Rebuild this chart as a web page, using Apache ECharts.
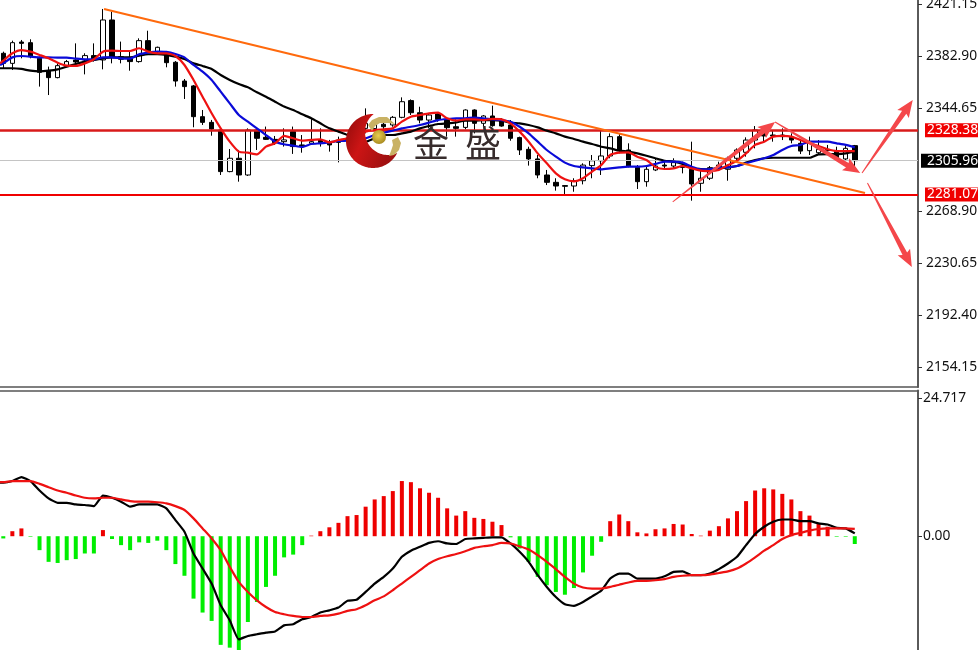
<!DOCTYPE html>
<html>
<head>
<meta charset="utf-8">
<style>html,body{margin:0;padding:0;background:#fff;overflow:hidden}#c{width:978px;height:650px}</style>
<script src="https://cdn.jsdelivr.net/npm/echarts@6/dist/echarts.min.js"></script>
</head>
<body>
<div id="c"></div>
<script>
// [open, close, low, high]
const ohlc = [
[2384.9,2377.5,2373.9,2386.1],[2377.5,2392.7,2372.6,2394.2],[2393.2,2392.2,2381.2,2394.7],[2392.7,2382.4,2381.2,2395.2],
[2381.2,2370.9,2360.4,2382.4],[2372.1,2367.0,2354.2,2375.1],[2367.0,2375.8,2366.5,2377.5],[2375.8,2378.8,2375.1,2380.0],
[2380.0,2378.5,2376.3,2392.2],[2380.0,2383.2,2369.4,2384.9],[2383.2,2380.5,2378.8,2392.2],[2380.0,2409.4,2373.1,2417.5],
[2409.4,2382.4,2377.5,2415.5],[2382.4,2380.5,2377.5,2393.5],[2381.9,2378.8,2372.1,2387.3],[2378.8,2394.2,2378.0,2395.9],
[2394.2,2386.8,2384.9,2401.5],[2386.1,2389.3,2384.9,2389.8],[2383.7,2378.0,2374.6,2384.9],[2378.3,2364.5,2360.4,2379.2],
[2364.5,2360.4,2351.3,2366.0],[2360.9,2338.3,2330.5,2361.6],[2338.3,2334.1,2332.2,2343.2],[2334.1,2329.2,2324.3,2335.9],
[2328.5,2297.9,2295.4,2329.7],[2297.9,2307.7,2297.4,2314.5],[2307.7,2295.4,2290.5,2313.8],[2295.4,2328.5,2294.7,2329.7],
[2328.5,2322.4,2313.8,2329.7],[2323.1,2321.6,2321.2,2331.0],[2321.6,2319.2,2317.5,2324.1],[2319.9,2321.2,2316.3,2329.7],
[2327.3,2316.3,2310.9,2331.0],[2317.5,2316.3,2311.8,2324.8],[2318.7,2319.9,2317.5,2337.1],[2321.2,2319.2,2316.3,2329.7],
[2319.9,2317.5,2312.6,2321.2],[2321.1,2319.4,2304.7,2323.6],[2320.6,2322.4,2318.7,2326.0],[2322.4,2324.8,2321.1,2328.5],
[2329.7,2333.4,2326.0,2344.4],[2329.5,2332.7,2328.5,2335.8],[2332.7,2330.9,2327.3,2337.1],[2332.2,2337.8,2330.9,2338.8],
[2337.8,2349.3,2337.1,2352.5],[2350.1,2341.2,2339.5,2351.0],[2341.2,2335.8,2333.4,2345.6],[2335.8,2339.5,2329.7,2340.7],
[2340.3,2336.3,2334.6,2340.7],[2335.8,2330.2,2323.6,2337.1],[2330.9,2329.7,2323.6,2336.3],[2330.4,2343.2,2329.0,2343.7],
[2343.2,2333.4,2326.0,2343.7],[2333.4,2338.8,2331.4,2339.5],[2338.8,2331.7,2330.9,2346.4],[2336.3,2331.4,2330.9,2337.1],
[2332.2,2322.4,2320.6,2335.8],[2322.9,2313.8,2310.1,2323.6],[2314.3,2307.2,2302.3,2316.2],[2307.2,2295.4,2293.0,2310.1],
[2295.4,2290.0,2288.0,2299.1],[2290.0,2287.3,2283.9,2293.0],[2287.6,2287.1,2281.2,2288.0],[2287.3,2291.2,2283.1,2293.0],
[2291.2,2302.7,2288.5,2304.0],[2302.3,2305.9,2293.0,2310.1],[2305.9,2309.4,2295.4,2328.0],[2309.4,2323.6,2307.7,2326.0],
[2323.6,2313.8,2311.3,2325.5],[2313.8,2302.0,2301.0,2318.7],[2301.0,2290.5,2285.1,2302.7],[2290.5,2299.6,2286.8,2302.7],
[2299.1,2302.0,2298.3,2307.7],[2302.7,2302.0,2299.1,2305.2],[2302.0,2304.5,2300.3,2307.7],[2302.0,2301.0,2296.6,2305.2],
[2299.6,2288.8,2276.5,2319.9],[2289.3,2293.0,2283.1,2299.1],[2293.0,2300.8,2291.7,2302.0],[2302.7,2300.3,2299.1,2305.2],
[2299.6,2307.7,2291.2,2308.9],[2307.7,2313.8,2305.2,2315.0],[2312.1,2321.1,2308.9,2323.1],[2321.1,2328.5,2315.0,2331.4],
[2327.3,2324.1,2319.9,2329.0],[2324.8,2324.1,2319.9,2328.0],[2323.6,2324.8,2321.1,2329.7],[2323.1,2321.1,2318.7,2326.0],
[2318.7,2313.0,2310.8,2321.1],[2313.3,2318.7,2310.1,2323.6],[2311.8,2314.3,2310.1,2321.1],[2314.3,2313.3,2310.1,2317.5],
[2312.6,2307.2,2306.4,2316.2],[2307.2,2315.0,2306.4,2316.7],[2317.0,2305.96,2301.5,2317.5]
];
const maFast = [2379.5,2384.9,2387.3,2386.1,2383.7,2381.2,2378.0,2375.8,2375.6,2377.5,2380.5,2386.1,2386.8,2386.6,2386.6,2388.6,2386.1,2384.9,2384.9,2382.9,2376.3,2365.3,2353.0,2340.8,2329.7,2319.9,2312.6,2311.8,2310.6,2316.3,2318.7,2324.1,2322.4,2320.7,2321.2,2321.6,2319.4,
2321.1,2322.4,2324.8,2327.3,2328.5,2329.0,2329.7,2334.6,2338.3,2339.5,2340.7,2341.2,2337.1,2335.4,2336.3,2336.3,2335.8,2336.6,2336.3,2333.4,2327.3,2319.9,2311.3,2304.0,2296.6,2292.2,2290.7,2293.0,2297.9,2302.7,2310.1,2311.8,2312.1,2308.9,2306.4,2301.3,2299.8,2300.3,2302.0,2300.3,2298.6,2298.3,2299.1,2302.7,2305.9,2311.3,2317.5,2319.9,2323.6,2324.1,2323.6,2321.1,2318.7,2316.7,2314.3,2313.0,2313.0,2313.0];
const maMid = [2377.5,2381.9,2382.9,2382.4,2381.9,2381.9,2381.7,2381.7,2381.0,2380.5,2380.5,2381.9,2381.9,2381.2,2381.0,2384.2,2385.4,2386.1,2385.9,2384.4,2381.9,2376.3,2371.4,2365.3,2356.7,2348.1,2339.5,2334.6,2329.7,2324.8,2319.9,2318.0,2317.0,2316.0,2318.2,2318.7,2319.4,
2320.4,2320.6,2321.1,2322.4,2324.8,2326.5,2328.0,2329.7,2330.9,2332.2,2333.9,2335.8,2336.6,2337.1,2337.1,2337.6,2337.1,2336.3,2335.8,2334.6,2330.9,2326.0,2319.9,2313.8,2308.9,2304.5,2302.0,2301.0,2300.3,2299.6,2300.3,2301.0,2301.5,2301.5,2302.0,2303.5,2305.2,2305.2,2304.5,2301.5,2299.6,2299.6,2300.8,2301.0,2302.0,2304.0,2305.9,2307.7,2310.1,2313.8,2316.7,2317.5,2319.9,2319.9,2319.9,2318.7,2317.5,2315.7];
const maSlow = [2373.9,2373.9,2373.4,2372.1,2371.6,2372.1,2373.1,2375.1,2377.0,2378.8,2380.0,2381.2,2381.9,2381.9,2381.9,2383.2,2384.2,2384.2,2383.7,2382.4,2380.7,2377.5,2375.6,2373.4,2368.9,2365.3,2362.3,2359.9,2356.2,2353.0,2349.3,2345.7,2343.2,2340.0,2337.1,2333.4,2329.7,
2327.3,2324.8,2321.1,2319.9,2322.4,2324.8,2324.8,2326.0,2327.3,2329.7,2331.4,2332.9,2333.4,2334.1,2335.4,2335.4,2335.8,2335.8,2335.4,2333.9,2333.4,2332.2,2330.4,2328.0,2326.0,2323.6,2321.9,2319.9,2318.2,2316.2,2315.0,2313.3,2312.6,2311.3,2309.6,2307.7,2305.9,2305.2,2303.5,2300.3,2299.8,2299.6,2300.3,2301.0,2302.0,2304.5,2306.4,2307.7,2308.1,2308.1,2308.1,2308.1,2308.1,2310.6,2310.8,2310.8,2311.3,2313.0];
const macdHist = [-0.4,0.9,1.4,-0.1,-2.5,-4.6,-4.8,-4.3,-4.1,-3.1,-3.1,1.1,-0.5,-1.6,-2.5,-1.1,-1.2,-0.8,-2.5,-5.0,-7.1,-11.2,-13.7,-15.2,-19.5,-20.0,-21.0,-15.4,-11.8,-9.1,-7.1,-3.8,-3.3,-1.6,0.1,0.9,1.6,
2.4,3.6,3.8,5.3,6.6,7.2,8.1,9.9,9.7,8.6,7.8,6.9,5.0,3.7,4.5,3.3,3.1,2.6,2.0,-0.2,-2.2,-4.6,-7.3,-8.8,-10.0,-10.5,-9.3,-6.5,-3.5,-1.0,2.7,3.9,2.7,0.7,0.5,
1.25,1.4,2.2,2.1,0.4,0.1,1.0,1.8,3.2,4.5,6.3,8.2,8.6,8.4,7.6,6.6,4.5,3.7,2.2,1.7,-0.1,-0.1,-1.4];
const macdLine = [9.6,9.9,10.6,9.9,8.2,6.8,6.0,6.0,5.7,5.6,5.4,7.3,6.9,6.2,5.3,5.7,5.7,5.7,5.0,2.9,0.8,-3.1,-5.8,-8.5,-12.4,-15.1,-18.5,-17.9,-17.6,-17.3,-17.1,-16.0,-15.8,-14.9,-14.5,-13.7,-13.3,
-12.8,-11.6,-11.4,-10.0,-8.5,-7.3,-5.8,-3.7,-2.6,-1.9,-1.2,-0.9,-1.3,-1.4,-0.5,-0.4,-0.3,-0.2,-0.2,-1.3,-2.8,-4.6,-7.0,-9.1,-10.9,-12.2,-12.5,-11.8,-10.8,-9.8,-7.6,-6.7,-6.7,-7.6,-7.6,
-7.6,-7.2,-6.4,-6.3,-7.0,-7.0,-6.7,-5.9,-4.9,-3.7,-1.6,0.4,1.7,2.6,3.0,3.0,2.7,2.7,2.3,2.1,1.5,1.4,0.5];
const macdSignal = [9.7,9.9,9.9,9.9,9.4,8.8,8.2,7.8,7.3,6.9,6.8,6.9,6.9,6.6,6.3,6.2,6.2,6.1,5.9,5.4,4.7,3.2,1.4,-0.4,-2.5,-5.5,-8.2,-10.0,-11.5,-12.7,-13.6,-14.0,-14.3,-14.5,-14.5,-14.3,-14.2,
-13.9,-13.4,-13.1,-12.4,-11.5,-10.8,-9.7,-8.5,-7.3,-6.1,-4.9,-4.1,-3.6,-3.2,-2.7,-2.1,-1.8,-1.6,-1.2,-1.3,-1.8,-2.4,-3.4,-4.6,-5.9,-7.3,-8.5,-9.2,-9.4,-9.4,-9.1,-8.7,-8.3,-8.0,-8.0,
-7.9,-7.7,-7.3,-7.1,-7.0,-7.0,-6.9,-6.6,-6.3,-5.8,-4.9,-3.8,-2.6,-1.6,-0.5,0.2,0.6,1.0,1.3,1.4,1.4,1.4,1.3];
// values of each line where it enters at the left edge, before the first whole bar
const entryFast = 2377.5, entryMid = 2376.3, entrySlow = 2373.9, entryMacd = 9.6, entrySignal = 9.7;
const priceTicks = [2421.15,2382.90,2344.65,2268.90,2230.65,2192.40,2154.15];
const macdTicks = [24.717,0];
const resistance = 2328.38, lastPrice = 2305.96, support = 2281.07;
// [bar index, price]
const trendLine = [[11.12,2417.5],[95.13,2282.2]];
// [from index, from price, to index, to price]
const arrows = [
  [73.9,2275.6,85.2,2334.4],
  [85.2,2334.4,94.6,2296.9],
  [94.8,2296.9,100.4,2350.6],
  [95.4,2289.5,100.3,2227.8]
];

const FONT = '"Noto Sans",Tahoma,sans-serif';
const FS = 13.8;
const XMIN = -0.364, XMAX = 100.98;
const pair = (a, entry) => [[XMIN, entry], ...a.map((v, i) => [i, v])];
function levelLine(value, color, width, bg) {
  return {
    type: 'line', xAxisIndex: 0, yAxisIndex: 0, data: [], z: 3, silent: true,
    markLine: {
      silent: true, symbol: 'none', animation: false,
      lineStyle: { color, width, type: 'solid' },
      label: {
        show: true, position: 'end', distance: bg === '#000' ? 3 : 7,
        formatter: value.toFixed(2), color: '#fff', backgroundColor: bg,
        fontFamily: FONT, fontSize: FS,
        padding: bg === '#000' ? [1, 6, 0, 6] : [1, 6, 0, 2], lineHeight: 13
      },
      data: [{ yAxis: value }]
    }
  };
}
function renderArrow(params, api) {
  const a = api.coord([api.value(0), api.value(1)]);
  const b = api.coord([api.value(2), api.value(3)]);
  const dx = b[0] - a[0], dy = b[1] - a[1], L = Math.hypot(dx, dy);
  const ux = dx / L, uy = dy / L, nx = -uy, ny = ux;
  const head = 15, shaftW = 2.6, headW = 7;
  const pt = (d, o) => [a[0] + ux * d + nx * o, a[1] + uy * d + ny * o];
  return {
    type: 'polygon',
    shape: { points: [pt(0, 0.5), pt(L - head, shaftW), pt(L - head - 2, headW), b, pt(L - head - 2, -headW), pt(L - head, -shaftW), pt(0, -0.5)] },
    style: { fill: '#f4474a', stroke: null }
  };
}
// outline of the logo's crescent
function crescent() {
  const pts = [];
  // from the top tip, through the left side, to the lower right tip
  for (let k = 0; k <= 80; k++) { const t = (271.5 - (271.5 - 25.7) * k / 80) * Math.PI / 180; pts.push([373 + 27 * Math.cos(t), 141 + 27 * Math.sin(t)]); }
  // back along the inner circle through its lower left
  for (let k = 0; k <= 50; k++) { const t = (66.7 + (231.4 - 66.7) * k / 50) * Math.PI / 180; pts.push([388 + 23 * Math.cos(t), 132 + 23 * Math.sin(t)]); }
  return pts;
}
const chart = echarts.init(document.getElementById('c'), null, { renderer: 'canvas' });
chart.setOption({
  animation: false,
  backgroundColor: '#fff',
  grid: [
    { left: 0, top: 0, width: 918, height: 387, outerBoundsMode: 'none', containLabel: false },
    { left: 0, top: 390.5, width: 918, height: 259.5, outerBoundsMode: 'none', containLabel: false }
  ],
  xAxis: [
    { type: 'value', gridIndex: 0, min: XMIN, max: XMAX, position: 'bottom', splitLine: { show: false },
      axisTick: { show: false }, axisLabel: { show: false }, axisLine: { show: true, onZero: false, lineStyle: { color: '#555', width: 1.5 } } },
    { type: 'value', gridIndex: 1, min: XMIN, max: XMAX, position: 'top', splitLine: { show: false },
      axisTick: { show: false }, axisLabel: { show: false }, axisLine: { show: true, onZero: false, lineStyle: { color: '#555', width: 1.5 } } }
  ],
  yAxis: [
    { type: 'value', gridIndex: 0, position: 'right', min: 2139.5, max: 2424.09, splitLine: { show: false },
      axisLine: { show: true, onZero: false, lineStyle: { color: '#5a5a5a', width: 2 } },
      axisTick: { show: true, customValues: priceTicks, length: 4, lineStyle: { color: '#333' } },
      axisLabel: { customValues: priceTicks, formatter: v => v.toFixed(2), margin: 8, padding: [3, 0, 0, 0], color: '#111', fontFamily: FONT, fontSize: FS, hideOverlap: false, showMinLabel: true, showMaxLabel: true } },
    { type: 'value', gridIndex: 1, position: 'right', min: -20.42, max: 26.15, splitLine: { show: false },
      axisLine: { show: true, onZero: false, lineStyle: { color: '#5a5a5a', width: 2 } },
      axisTick: { show: true, customValues: macdTicks, length: 4, lineStyle: { color: '#333' } },
      axisLabel: { customValues: macdTicks, formatter: v => v === 0 ? '0.00' : String(v), margin: 5, padding: [3, 0, 0, 0], color: '#111', fontFamily: FONT, fontSize: FS } }
  ],
  series: [
    levelLine(lastPrice, '#c4c4c4', 1, '#000'),
    {
      type: 'candlestick', xAxisIndex: 0, yAxisIndex: 0, z: 4, barWidth: 5,
      data: ohlc.map((d, i) => [i, ...d]), encode: { x: 0, y: [1, 2, 3, 4] },
      itemStyle: { color: '#fff', color0: '#000', borderColor: '#000', borderColor0: '#000', borderWidth: 1 }
    },
    levelLine(resistance, '#d81a1a', 2.5, '#f00000'),
    levelLine(support, '#f00000', 2, '#f00000'),
    { type: 'line', xAxisIndex: 0, yAxisIndex: 0, z: 5, data: pair(maSlow, entrySlow), symbol: 'none', smooth: 0.2, lineStyle: { color: '#000', width: 2.2 } },
    { type: 'line', xAxisIndex: 0, yAxisIndex: 0, z: 6, data: pair(maMid, entryMid), symbol: 'none', smooth: 0.2, lineStyle: { color: '#0a0ad8', width: 2.2 } },
    { type: 'line', xAxisIndex: 0, yAxisIndex: 0, z: 7, data: pair(maFast, entryFast), symbol: 'none', smooth: 0.2, lineStyle: { color: '#ee1111', width: 2.2 } },
    { type: 'line', xAxisIndex: 0, yAxisIndex: 0, z: 8, data: trendLine, symbol: 'none', lineStyle: { color: '#ff6a0d', width: 2.2 } },
    {
      type: 'custom', xAxisIndex: 0, yAxisIndex: 0, z: 9, clip: false, silent: true,
      data: arrows, encode: { x: [0, 2], y: [1, 3] }, renderItem: renderArrow
    },
    {
      type: 'bar', xAxisIndex: 1, yAxisIndex: 1, z: 3, barWidth: 4, data: macdHist.map((v, i) => [i, v]),
      itemStyle: { color: p => p.value[1] >= 0 ? '#ee0000' : '#00ee00' }
    },
    { type: 'line', xAxisIndex: 1, yAxisIndex: 1, z: 5, data: pair(macdLine, entryMacd), symbol: 'none', smooth: 0.15, lineStyle: { color: '#000', width: 2.2 } },
    { type: 'line', xAxisIndex: 1, yAxisIndex: 1, z: 6, data: pair(macdSignal, entrySignal), symbol: 'none', smooth: 0.2, lineStyle: { color: '#ee1111', width: 2.2 } }
  ],
  graphic: { elements: [
    { type: 'polygon', z: 100, shape: { points: crescent() },
      style: { fill: { type: 'linear', x: 0, y: 0, x2: 1, y2: 0.4, colorStops: [{ offset: 0, color: '#8e0a0a' }, { offset: 0.45, color: '#cc1515' }, { offset: 1, color: '#a01010' }] } } },
    { type: 'polygon', z: 101, shape: { points: [[368,125],[372,120],[379,117],[387,117],[395,124],[388,123],[380,123],[375,126],[372,131]] }, style: { fill: '#c9b264' } },
    { type: 'polygon', z: 101, shape: { points: [[398,137],[401,143],[399,150],[394,155],[389,156],[391,151],[393,145],[392,140]] }, style: { fill: '#c9b264' } },
    { type: 'circle', z: 102, shape: { cx: 379, cy: 137, r: 7 }, style: { fill: { type: 'radial', x: 0.45, y: 0.4, r: 0.6, colorStops: [{ offset: 0, color: '#e8cf52' }, { offset: 1, color: '#a98a20' }] } } },
    { type: 'text', z: 103, x: 431, y: 143, style: { text: '金', font: '400 36px "Noto Sans CJK SC"', fill: '#372c2c', align: 'center', verticalAlign: 'middle' } },
    { type: 'text', z: 103, x: 483, y: 143, style: { text: '盛', font: '400 36px "Noto Sans CJK SC"', fill: '#372c2c', align: 'center', verticalAlign: 'middle' } }
  ] }
});
</script>
</body>
</html>
